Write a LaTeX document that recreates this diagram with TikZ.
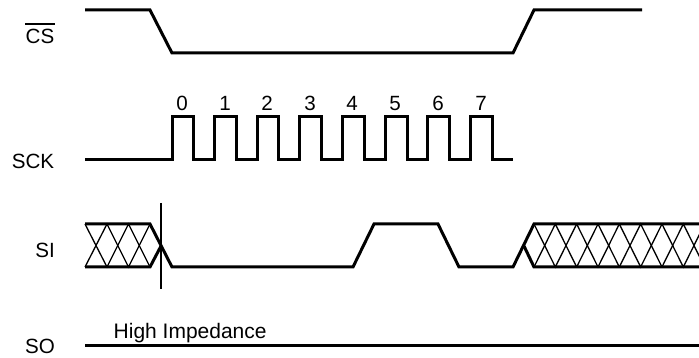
\documentclass[tikz,border=0pt]{standalone}
\usepackage{fontspec}
\setmainfont{Liberation Sans}
\tikzset{
  wave/.style={draw=black,line width=3pt,line join=miter},
  hatch/.style={draw=black,line width=1.3pt},
  marker/.style={draw=black,line width=1.8pt},
  lbl/.style={font=\fontsize{20.6}{24}\selectfont,inner sep=0pt,text=black},
  bitnum/.style={font=\fontsize{20.6}{24}\selectfont,inner sep=0pt,text=black,anchor=base}
}
\begin{document}
\begin{tikzpicture}[x=1pt,y=-1pt]
\useasboundingbox (0,0) rectangle (699,358);
\clip (0,0) rectangle (699,358);
% labels
\node[lbl] (cs) at (40,36.5) {CS};
\coordinate (csa) at (25,24); \coordinate (csb) at (55,24);
\draw[line width=1.6pt] (csa) -- (csb);
\node[lbl] (sck) at (33,161) {SCK};
\node[lbl] (si) at (45,250) {SI};
\node[lbl] (so) at (40,346) {SO};
\node[lbl,font=\fontsize{21}{24}\selectfont,anchor=base west] (hi) at (113.5,338) {High Impedance};
% bit numbers
\foreach \n/\x in {0/182,1/225,2/267,3/310,4/352,5/395,6/438,7/481}
  \node[bitnum] (b\n) at (\x,110.5) {\n};
% CS
\draw[wave] (85,10) -- (150,10) -- (172,53) -- (513,53) -- (534,10) -- (642,10);
% SCK
\draw[wave] (85,160) -- (172,160) -- (172,117) -- (193,117) -- (193,160)
  -- (214,160) -- (214,117) -- (236,117) -- (236,160)
  -- (257,160) -- (257,117) -- (278.5,117) -- (278.5,160)
  -- (299.5,160) -- (299.5,117) -- (321,117) -- (321,160)
  -- (342,160) -- (342,117) -- (364,117) -- (364,160)
  -- (385,160) -- (385,117) -- (407,117) -- (407,160)
  -- (427.5,160) -- (427.5,117) -- (449,117) -- (449,160)
  -- (470,160) -- (470,117) -- (492,117) -- (492,160) -- (513,160);
% SI left bus
\draw[hatch] (85,224) -- (107,267) -- (128.5,224) -- (150,267);
\draw[hatch] (85,267) -- (107,224) -- (128.5,267) -- (150,224);
\draw[wave] (85,224) -- (150,224) -- (172,267) -- (353,267) -- (374,224) -- (438,224) -- (459,267) -- (513,267) -- (534,224) -- (705,224);
\draw[wave] (85,267) -- (150,267) -- (161,246);
\draw[wave] (524,246) -- (534,267) -- (705,267);
% SI right hatch
\foreach \k in {0,2,4,6,8}{
  \draw[hatch] ({534+21.33*\k},224) -- ({534+21.33*(\k+1)},267) -- ({534+21.33*(\k+2)},224);
  \draw[hatch] ({534+21.33*\k},267) -- ({534+21.33*(\k+1)},224) -- ({534+21.33*(\k+2)},267);
}
% marker
\coordinate (mt) at (161,203); \coordinate (mb) at (161,289);
\draw[marker] (mt) -- (mb);
% SO
\draw[wave] (85,345) -- (705,345);
\end{tikzpicture}
\end{document}
